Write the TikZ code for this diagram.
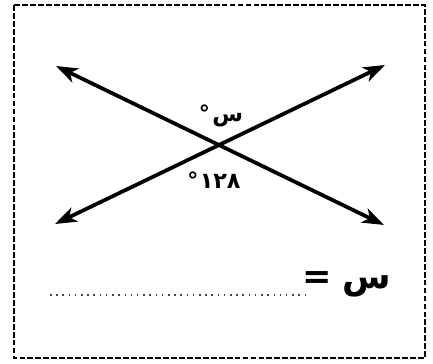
\documentclass[tikz,border=0pt]{standalone}
\usepackage{fontspec}
\usetikzlibrary{arrows.meta,positioning}
\newfontfamily\arabicfont[Script=Arabic]{DejaVu Sans}
\TeXXeTstate=1
\definecolor{qink}{HTML}{000000}
\definecolor{qdot}{HTML}{444444}
\tikzset{
  frame/.style={draw=qink, line width=2.5pt, dash pattern=on 5pt off 1.8pt},
  ray/.style={{Stealth[length=6.5mm,width=4.6mm,inset=1.8mm]}-{Stealth[length=6.5mm,width=4.6mm,inset=1.8mm]}, line width=3.2pt, color=qink},
  lbl/.style={font=\arabicfont\bfseries\fontsize{19}{22}\selectfont, inner sep=0pt},
  ans/.style={font=\arabicfont\bfseries\fontsize{30}{34}\selectfont, inner sep=0pt},
  blank/.style={draw=qdot, line width=1.3pt, dash pattern=on 1.3pt off 4pt},
}

\begin{document}
\begin{tikzpicture}[x=0.03cm,y=-0.03cm]
  \useasboundingbox (0,0) rectangle (433,363);
  \draw[frame] (14,5) rectangle (425,358);
  % the two crossing lines
  \coordinate (tl) at (56,66); \coordinate (br) at (384,225);
  \coordinate (tr) at (385,65); \coordinate (bl) at (55,224);
  \draw[ray] (tl) -- (br);
  \draw[ray] (bl) -- (tr);
  \node[lbl] (angx) at (221,116) {\beginR س\kern2pt°\endR};
  \node[lbl] (ang128) at (214,180) {\beginR ١٢٨\kern1pt°\endR};
  % answer line
  \node[ans, anchor=east] (eq) at (391,284) {\beginR س\kern-2pt{} =\endR};
  \coordinate (d0) at (50,295); \coordinate (d1) at (308,295);
  \draw[blank] (d0) -- (d1);
\end{tikzpicture}
\end{document}
